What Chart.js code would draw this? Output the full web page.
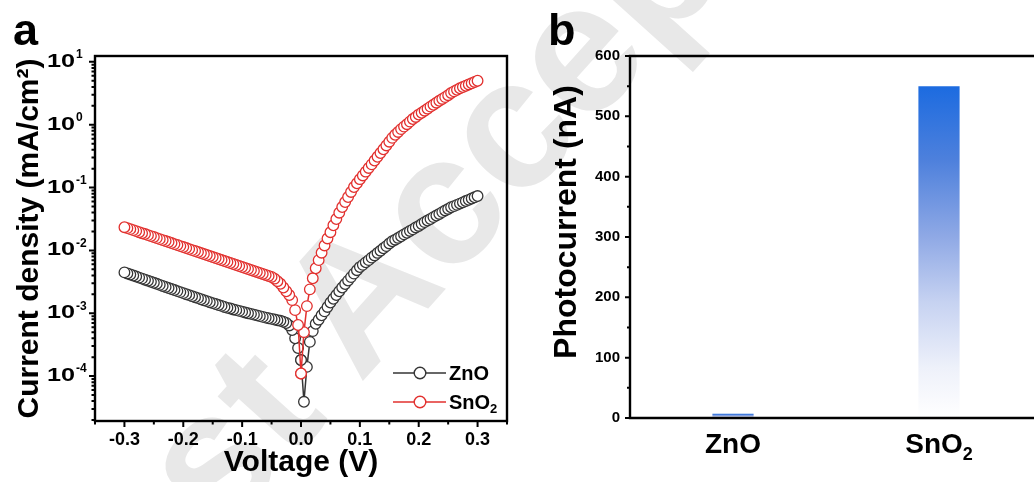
<!DOCTYPE html>
<html>
<head>
<meta charset="utf-8">
<script src="https://cdn.jsdelivr.net/npm/chart.js@4.4.1/dist/chart.umd.min.js"></script>
<style>
  html, body { margin: 0; padding: 0; background: #fff; overflow: hidden; }
  #page { position: relative; width: 1034px; height: 482px; overflow: hidden;
          font-family: 'Liberation Sans', Arial, sans-serif; }
  .wm { position: absolute; left: -183px; top: 98px; width: 1264px; height: 185px;
        line-height: 185px; font-size: 185px; font-weight: bold; text-align: center; white-space: nowrap;
        color: #e8e8e8; transform: rotate(-48deg); }
  .tag { position: absolute; top: 7px; font-size: 45px; line-height: 45px; font-weight: bold; color: #000; }
  canvas { position: absolute; top: 0; }
</style>
</head>
<body>
<div id="page">
  <div class="wm">Just Accepted</div>
  <canvas id="jv" width="520" height="482" style="left:0"></canvas>
  <canvas id="pc" width="540" height="482" style="left:520px"></canvas>
  <div class="tag" style="left:13px">a</div>
  <div class="tag" style="left:548px">b</div>
</div>
<script>
const FONT = "'Liberation Sans', Arial, sans-serif";

// J-V sweep, -0.3 V .. 0.3 V
const voltage = [
  -0.3, -0.295, -0.29, -0.285, -0.28, -0.275, -0.27, -0.265, -0.26, -0.255,
  -0.25, -0.245, -0.24, -0.235, -0.23, -0.225, -0.22, -0.215, -0.21, -0.205,
  -0.2, -0.195, -0.19, -0.185, -0.18, -0.175, -0.17, -0.165, -0.16, -0.155,
  -0.15, -0.145, -0.14, -0.135, -0.13, -0.125, -0.12, -0.115, -0.11, -0.105,
  -0.1, -0.095, -0.09, -0.085, -0.08, -0.075, -0.07, -0.065, -0.06, -0.055,
  -0.05, -0.045, -0.04, -0.035, -0.03, -0.025, -0.02, -0.015, -0.01, -0.005,
  0,
  0.005, 0.01, 0.015, 0.02, 0.025, 0.03, 0.035, 0.04, 0.045, 0.05,
  0.055, 0.06, 0.065, 0.07, 0.075, 0.08, 0.085, 0.09, 0.095, 0.1,
  0.105, 0.11, 0.115, 0.12, 0.125, 0.13, 0.135, 0.14, 0.145, 0.15,
  0.155, 0.16, 0.165, 0.17, 0.175, 0.18, 0.185, 0.19, 0.195, 0.2,
  0.205, 0.21, 0.215, 0.22, 0.225, 0.23, 0.235, 0.24, 0.245, 0.25,
  0.255, 0.26, 0.265, 0.27, 0.275, 0.28, 0.285, 0.29, 0.295, 0.3
];

// current density, mA/cm2
const znoJ = [
  4.47e-3, 4.30e-3, 4.14e-3, 3.98e-3, 3.84e-3, 3.69e-3, 3.56e-3, 3.42e-3, 3.30e-3, 3.17e-3,
  3.05e-3, 2.94e-3, 2.83e-3, 2.72e-3, 2.62e-3, 2.52e-3, 2.43e-3, 2.34e-3, 2.25e-3, 2.17e-3,
  2.09e-3, 2.01e-3, 1.94e-3, 1.87e-3, 1.80e-3, 1.74e-3, 1.67e-3, 1.61e-3, 1.56e-3, 1.50e-3,
  1.45e-3, 1.40e-3, 1.35e-3, 1.31e-3, 1.26e-3, 1.22e-3, 1.19e-3, 1.15e-3, 1.12e-3, 1.09e-3,
  1.06e-3, 1.03e-3, 1.00e-3, 9.77e-4, 9.51e-4, 9.25e-4, 9.00e-4, 8.75e-4, 8.53e-4, 8.32e-4,
  8.13e-4, 7.94e-4, 7.76e-4, 7.59e-4, 7.33e-4, 7.0e-4, 6.4e-4, 5.4e-4, 4.0e-4, 2.8e-4,
  1.8e-4,
  3.9e-5, 1.4e-4, 3.5e-4, 5.2e-4, 6.8e-4, 7.9e-4, 9.3e-4, 1.07e-3, 1.26e-3, 1.48e-3,
  1.70e-3, 1.95e-3, 2.24e-3, 2.57e-3, 2.92e-3, 3.31e-3, 3.76e-3, 4.27e-3, 4.84e-3, 5.43e-3,
  5.89e-3, 6.46e-3, 7.00e-3, 7.67e-3, 8.32e-3, 9.12e-3, 9.89e-3, 0.0108, 0.0117, 0.0129,
  0.0140, 0.0148, 0.0158, 0.0168, 0.0180, 0.0191, 0.0204, 0.0216, 0.0232, 0.0245,
  0.0263, 0.0282, 0.0299, 0.0316, 0.0339, 0.0359, 0.0380, 0.0407, 0.0432, 0.0457,
  0.0486, 0.0507, 0.0531, 0.0556, 0.0582, 0.0610, 0.0638, 0.0668, 0.0700, 0.0733
];
const sno2J = [
  0.0234, 0.0226, 0.0218, 0.0210, 0.0203, 0.0195, 0.0188, 0.0182, 0.0175, 0.0169,
  0.0163, 0.0157, 0.0151, 0.0146, 0.0141, 0.0136, 0.0131, 0.0126, 0.0122, 0.0117,
  0.0113, 0.0109, 0.0105, 0.0101, 0.00977, 0.00942, 0.00908, 0.00875, 0.00844, 0.00813,
  0.00784, 0.00757, 0.00729, 0.00703, 0.00678, 0.00653, 0.00630, 0.00608, 0.00586, 0.00565,
  0.00545, 0.00525, 0.00506, 0.00488, 0.00471, 0.00454, 0.00438, 0.00422, 0.00407, 0.00392,
  0.00378, 0.00355, 0.00324, 0.00295, 0.00257, 0.00224, 0.00195, 0.00162, 0.00112, 0.00065,
  0.00011,
  5.0e-4, 1.3e-3, 2.4e-3, 3.6e-3, 5.2e-3, 7.0e-3, 9.2e-3, 0.0120, 0.0155, 0.0195,
  0.0251, 0.0316, 0.0398, 0.0490, 0.0589, 0.0708, 0.0851, 0.102, 0.117, 0.136,
  0.156, 0.179, 0.205, 0.234, 0.269, 0.309, 0.355, 0.407, 0.468, 0.537,
  0.617, 0.692, 0.767, 0.851, 0.933, 1.02, 1.12, 1.23, 1.33, 1.45,
  1.55, 1.67, 1.80, 1.94, 2.08, 2.24, 2.40, 2.57, 2.75, 2.95,
  3.20, 3.39, 3.59, 3.80, 3.98, 4.17, 4.37, 4.57, 4.79, 5.01
];

const xMajor = [-0.3, -0.2, -0.1, 0, 0.1, 0.2, 0.3];
const xMinor = [-0.35, -0.25, -0.15, -0.05, 0.05, 0.15, 0.25, 0.35];
const yDecades = [1e-4, 1e-3, 1e-2, 1e-1, 1, 10];
const yExponents = ['-4', '-3', '-2', '-1', '0', '1'];

// photocurrent bars
const materials = ['ZnO', 'SnO2'];
const photocurrent = [7, 550];
const pcTicks = [0, 100, 200, 300, 400, 500, 600];
const pcMinor = [50, 150, 250, 350, 450, 550];

const COLORS = { ZnO: '#353535', SnO2: '#e2302e' };
// names with a subscript part: [text, isSub]
const NAME_PARTS = { ZnO: [['ZnO', false]], SnO2: [['SnO', false], ['2', true]] };

Chart.defaults.font.family = FONT;
Chart.defaults.font.weight = 'bold';
Chart.defaults.color = '#000';

// draws a name like SnO2 with its subscript, x is left/center depending on align
function drawName(ctx, name, x, y, size, subSize, subDy, align) {
  const parts = NAME_PARTS[name].map(([t, sub]) => {
    ctx.font = `bold ${sub ? subSize : size}px ${FONT}`;
    return { t, sub, w: ctx.measureText(t).width };
  });
  const total = parts.reduce((s, p) => s + p.w, 0);
  let cx = align === 'center' ? x - total / 2 : x;
  ctx.textAlign = 'left';
  ctx.textBaseline = 'alphabetic';
  parts.forEach((p) => {
    ctx.font = `bold ${p.sub ? subSize : size}px ${FONT}`;
    ctx.fillText(p.t, cx, y + (p.sub ? subDy : 0));
    cx += p.w;
  });
}

function markerCircle(ctx, x, y, r, color) {
  ctx.beginPath();
  ctx.arc(x, y, r, 0, Math.PI * 2);
  ctx.fillStyle = '#fff';
  ctx.fill();
  ctx.lineWidth = 1.4;
  ctx.strokeStyle = color;
  ctx.stroke();
}

// frame, tick marks, 10^n labels and the legend of the J-V panel
const jvDecor = {
  id: 'jvDecor',
  afterDraw(chart) {
    const { ctx, chartArea: a, scales: { x, y } } = chart;
    ctx.save();
    ctx.strokeStyle = '#000';
    ctx.lineWidth = 2.4;
    ctx.strokeRect(a.left, a.top, a.right - a.left, a.bottom - a.top);

    ctx.lineWidth = 2;
    ctx.beginPath();
    xMajor.forEach((v) => { const p = x.getPixelForValue(v); ctx.moveTo(p, a.bottom); ctx.lineTo(p, a.bottom + 6); });
    xMinor.forEach((v) => { const p = x.getPixelForValue(v); ctx.moveTo(p, a.bottom); ctx.lineTo(p, a.bottom + 3.5); });
    yDecades.forEach((v) => { const p = y.getPixelForValue(v); ctx.moveTo(a.left, p); ctx.lineTo(a.left - 6, p); });
    for (let d = 1e-5; d < 20; d *= 10) {
      for (let k = 2; k <= 9; k++) {
        const v = k * d;
        if (v < y.min || v > y.max) continue;
        const p = y.getPixelForValue(v);
        ctx.moveTo(a.left, p); ctx.lineTo(a.left - 3.5, p);
      }
    }
    ctx.stroke();

    ctx.fillStyle = '#000';
    yDecades.forEach((v, i) => {
      const p = y.getPixelForValue(v);
      ctx.save();
      ctx.translate(a.left - 20, p);
      ctx.scale(1.4, 1);
      ctx.font = `bold 18px ${FONT}`;
      ctx.textAlign = 'right';
      ctx.textBaseline = 'middle';
      ctx.fillText('10', 0, 0);
      ctx.restore();
      ctx.font = `bold 12px ${FONT}`;
      ctx.textAlign = 'left';
      ctx.textBaseline = 'middle';
      ctx.fillText(yExponents[i], a.left - 19, p - 7);
    });

    // legend
    ['ZnO', 'SnO2'].forEach((name, i) => {
      const ry = a.bottom - 48 + i * 29;
      const x0 = a.right - 114;
      ctx.strokeStyle = COLORS[name];
      ctx.lineWidth = 1.6;
      ctx.beginPath(); ctx.moveTo(x0, ry); ctx.lineTo(x0 + 53, ry); ctx.stroke();
      markerCircle(ctx, x0 + 27, ry, 5.8, COLORS[name]);
      ctx.fillStyle = '#000';
      drawName(ctx, name, x0 + 56, ry + 7, 20, 13, 4, 'left');
    });
    ctx.restore();
  }
};

// left sweep is plotted from 0 V outwards, so the outer circles land on top
function branch(vals, side) {
  if (side === 'neg') {
    return voltage.slice(0, 61).map((v, i) => ({ x: v, y: vals[i] })).reverse();
  }
  return voltage.slice(60).map((v, i) => ({ x: v, y: vals[60 + i] }));
}

function jvSet(name, side) {
  const c = COLORS[name];
  return {
    label: name,
    data: branch(name === 'ZnO' ? znoJ : sno2J, side),
    borderColor: c,
    borderWidth: 1.5,
    pointRadius: 5.3,
    pointBorderWidth: 1.3,
    pointBorderColor: c,
    pointBackgroundColor: '#fff',
    tension: 0,
    fill: false,
  };
}

new Chart(document.getElementById('jv'), {
  type: 'line',
  data: {
    datasets: [jvSet('SnO2', 'neg'), jvSet('SnO2', 'pos'), jvSet('ZnO', 'neg'), jvSet('ZnO', 'pos')],
  },
  options: {
    responsive: false,
    animation: false,
    layout: { padding: { left: 0, top: 56, right: 13, bottom: 0 } },
    plugins: { legend: { display: false }, tooltip: { enabled: false } },
    scales: {
      x: {
        type: 'linear', min: -0.35, max: 0.35,
        afterFit: (s) => { s.height = 61; },
        afterBuildTicks: (s) => { s.ticks = xMajor.map((v) => ({ value: v })); },
        grid: { display: false, drawTicks: false },
        border: { display: false },
        ticks: { font: { size: 18, weight: 'bold' }, padding: 8, maxRotation: 0, autoSkip: false,
                 callback: (v) => Number(v).toFixed(1) },
        title: { display: true, text: 'Voltage (V)', font: { size: 30, weight: 'bold' },
                 padding: { top: 0, bottom: 1 } },
      },
      y: {
        type: 'logarithmic', min: 1.93e-5, max: 12.4,
        afterFit: (s) => { s.width = 95; },
        grid: { display: false, drawTicks: false },
        border: { display: false },
        ticks: { display: false },
        title: { display: true, text: 'Current density (mA/cm²)', font: { size: 30, weight: 'bold' },
                 padding: { top: 12, bottom: 0 } },
      },
    },
  },
  plugins: [jvDecor],
});

// bar fill: saturated blue at the top fading to white at the baseline
function barFill(c) {
  const chart = c.chart;
  if (!chart.chartArea || c.raw == null) return '#6f8fd8';
  const ys = chart.scales.y;
  const top = ys.getPixelForValue(c.raw);
  const base = ys.getPixelForValue(0);
  const g = chart.ctx.createLinearGradient(0, top, 0, base);
  g.addColorStop(0, '#1c6be0');
  g.addColorStop(0.22, '#4d80dc');
  g.addColorStop(0.45, '#8ea8e5');
  g.addColorStop(0.65, '#c6d2f1');
  g.addColorStop(0.85, '#eef1fa');
  g.addColorStop(1, '#ffffff');
  return g;
}

const pcDecor = {
  id: 'pcDecor',
  afterDraw(chart) {
    const { ctx, chartArea: a, scales: { x, y }, width } = chart;
    ctx.save();
    ctx.strokeStyle = '#000';
    ctx.lineWidth = 2.4;
    ctx.beginPath();
    ctx.moveTo(width, a.top); ctx.lineTo(a.left, a.top); ctx.lineTo(a.left, a.bottom); ctx.lineTo(width, a.bottom);
    ctx.stroke();

    ctx.lineWidth = 2;
    ctx.beginPath();
    pcTicks.forEach((v) => { const p = y.getPixelForValue(v); ctx.moveTo(a.left, p); ctx.lineTo(a.left - 5, p); });
    pcMinor.forEach((v) => { const p = y.getPixelForValue(v); ctx.moveTo(a.left, p); ctx.lineTo(a.left - 3, p); });
    ctx.stroke();

    ctx.fillStyle = '#000';
    materials.forEach((name, i) => {
      drawName(ctx, name, x.getPixelForValue(i), a.bottom + 35, 28, 18, 7, 'center');
    });

    ctx.save();
    ctx.translate(a.left - 63, (a.top + a.bottom) / 2 - 15);
    ctx.rotate(-Math.PI / 2);
    ctx.font = `bold 32px ${FONT}`;
    ctx.textAlign = 'center';
    ctx.textBaseline = 'middle';
    ctx.fillText('Photocurrent (nA)', 0, 0);
    ctx.restore();
    ctx.restore();
  }
};

new Chart(document.getElementById('pc'), {
  type: 'bar',
  data: {
    labels: materials,
    datasets: [{ data: photocurrent, backgroundColor: barFill, borderWidth: 0,
                 categoryPercentage: 1, barPercentage: 0.2 }],
  },
  options: {
    responsive: false,
    animation: false,
    layout: { padding: { left: 0, top: 56, right: 18, bottom: 0 } },
    plugins: { legend: { display: false }, tooltip: { enabled: false } },
    scales: {
      x: {
        afterFit: (s) => { s.height = 64; },
        grid: { display: false, drawTicks: false },
        border: { display: false },
        ticks: { display: false },
      },
      y: {
        min: 0, max: 600,
        afterFit: (s) => { s.width = 110; },
        afterBuildTicks: (s) => { s.ticks = pcTicks.map((v) => ({ value: v })); },
        grid: { display: false, drawTicks: false },
        border: { display: false },
        ticks: { font: { size: 15, weight: 'bold' }, padding: 10 },
      },
    },
  },
  plugins: [pcDecor],
});
</script>
</body>
</html>
